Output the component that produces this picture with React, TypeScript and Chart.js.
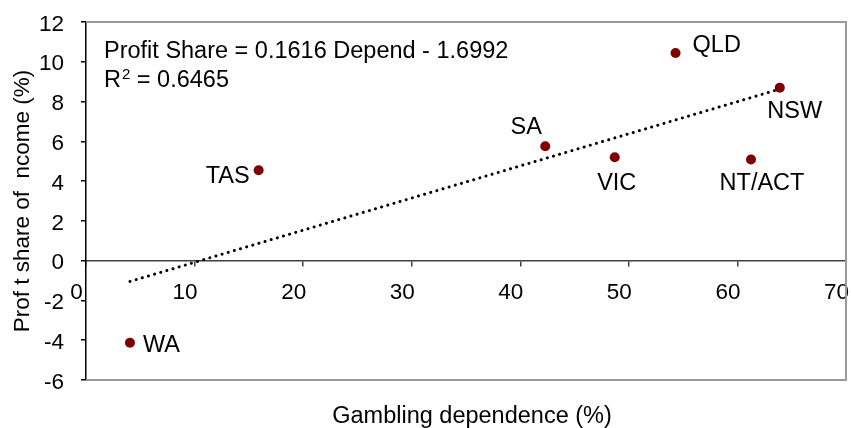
import React, { useEffect, useRef } from "react";
import { Chart, registerables } from "chart.js";

Chart.register(...registerables);

// ---- data ----
const states = ["WA", "TAS", "SA", "VIC", "QLD", "NT/ACT", "NSW"];
const gamblingDependence = [4.05, 15.9, 42.3, 48.7, 54.3, 61.25, 63.9];
const profitShare = [-4.13, 4.55, 5.75, 5.2, 10.44, 5.09, 8.7];
const trendSlope = 0.1616;
const trendIntercept = -1.6992;
const rSquared = "0.6465";
const xRange = [0, 70];
const xStep = 10;
const yRange = [-6, 12];
const yStep = 2;

// label placement (dx, dy, align) relative to each point
const labelPlacement: Record<string, [number, number, CanvasTextAlign]> = {
  WA: [13, 3, "left"],
  TAS: [-9, 6, "right"],
  SA: [-19, -19, "center"],
  VIC: [2, 26, "center"],
  QLD: [17, -8, "left"],
  "NT/ACT": [11, 24, "center"],
  NSW: [15, 24, "center"],
};

const FONT = "'Liberation Sans', Arial, sans-serif";
const TEXT_SIZE = 23.5;
const TICK_SIZE = 22.5;

function zeroPad(s: any) {
  s.paddingLeft = 0;
  s.paddingRight = 0;
  s.paddingTop = 0;
  s.paddingBottom = 0;
}

export default function App() {
  const ref = useRef<HTMLCanvasElement>(null);

  useEffect(() => {
    document.body.style.margin = "0";
    const canvas = ref.current!;
    const xMin = Math.min(...gamblingDependence);
    const xMax = Math.max(...gamblingDependence);
    const trend = [
      { x: xMin, y: trendSlope * xMin + trendIntercept },
      { x: xMax, y: trendSlope * xMax + trendIntercept },
    ];
    const points = gamblingDependence.map((x, i) => ({ x, y: profitShare[i] }));

    const overlay = {
      id: "overlay",
      beforeDatasetsDraw(chart: any) {
        const { ctx, chartArea: a } = chart;
        ctx.save();
        ctx.strokeStyle = "#9a9a9a";
        ctx.lineWidth = 2;
        ctx.beginPath();
        ctx.moveTo(a.left, a.top);
        ctx.lineTo(a.right, a.top);
        ctx.lineTo(a.right, a.bottom);
        ctx.lineTo(a.left, a.bottom);
        ctx.stroke();
        ctx.restore();
      },
      afterDatasetsDraw(chart: any) {
        const { ctx, chartArea: a } = chart;
        const xs = chart.scales.x;
        const ys = chart.scales.y;
        ctx.save();
        ctx.fillStyle = "#000";
        ctx.font = `${TEXT_SIZE}px ${FONT}`;
        ctx.textBaseline = "middle";
        // point labels
        states.forEach((s, i) => {
          const px = xs.getPixelForValue(gamblingDependence[i]);
          const py = ys.getPixelForValue(profitShare[i]);
          const [dx, dy, al] = labelPlacement[s];
          ctx.textAlign = al;
          ctx.fillText(s, px + dx, py + dy);
        });
        // equation
        ctx.textAlign = "left";
        const ex = a.left + 18;
        ctx.fillText(
          `Profit Share = ${trendSlope} Depend - ${Math.abs(trendIntercept)}`,
          ex,
          a.top + 30
        );
        ctx.fillText("R", ex, a.top + 59);
        const rw = ctx.measureText("R").width;
        ctx.font = `15px ${FONT}`;
        ctx.fillText("2", ex + rw + 1, a.top + 53);
        const w2 = ctx.measureText("2").width;
        ctx.font = `${TEXT_SIZE}px ${FONT}`;
        ctx.fillText(` = ${rSquared}`, ex + rw + 1 + w2, a.top + 59);
        // x title
        ctx.textAlign = "center";
        ctx.fillText("Gambling dependence (%)", (a.left + a.right) / 2 + 6, 417);
        ctx.restore();
      },
    };

    const chart = new Chart(canvas, {
      type: "scatter",
      data: {
        datasets: [
          {
            type: "line",
            data: trend,
            borderColor: "#000",
            borderWidth: 3,
            borderDash: [0.1, 6.3],
            borderCapStyle: "round",
            pointRadius: 0,
            fill: false,
          } as any,
          {
            data: points,
            backgroundColor: "#800000",
            borderColor: "#800000",
            pointRadius: 5,
            pointBorderWidth: 0,
          },
        ],
      },
      options: {
        responsive: false,
        animation: false,
        events: [],
        layout: { padding: { left: 0, top: 22, right: 5, bottom: 48 } },
        plugins: {
          legend: { display: false },
          tooltip: { enabled: false },
        },
        scales: {
          x: {
            type: "linear",
            position: { y: 0 } as any,
            min: xRange[0],
            max: xRange[1],
            afterFit: zeroPad,
            ticks: {
              stepSize: xStep,
              color: "#000",
              font: { family: FONT, size: TICK_SIZE },
              padding: 14,
              labelOffset: -9.5,
              maxRotation: 0,
              autoSkip: false,
            },
            grid: {
              drawOnChartArea: false,
              drawTicks: true,
              tickLength: 5,
              color: "#404040",
              lineWidth: 1.5,
            },
            border: { display: true, color: "#404040", width: 1.5 },
          },
          y: {
            type: "linear",
            position: "left",
            min: yRange[0],
            max: yRange[1],
            afterFit: (s: any) => {
              s.width = 86;
              zeroPad(s);
            },
            ticks: {
              stepSize: yStep,
              color: "#000",
              font: { family: FONT, size: TICK_SIZE },
              padding: 17,
              labelOffset: 2.5,
              autoSkip: false,
            },
            grid: {
              drawOnChartArea: false,
              drawTicks: true,
              tickLength: 5,
              color: "#000",
              lineWidth: 1.5,
            },
            border: { display: true, color: "#000", width: 1.5 },
            title: {
              display: true,
              text: "Prof t share of  ncome (%)",
              color: "#000",
              font: { family: FONT, size: 22.5 },
              padding: { top: 9, bottom: 0 },
            },
          },
        },
      },
      plugins: [overlay],
    });
    return () => chart.destroy();
  }, []);

  return (
    <div style={{ width: 851, height: 428 }}>
      <canvas ref={ref} width={851} height={428} style={{ display: "block" }} />
    </div>
  );
}
